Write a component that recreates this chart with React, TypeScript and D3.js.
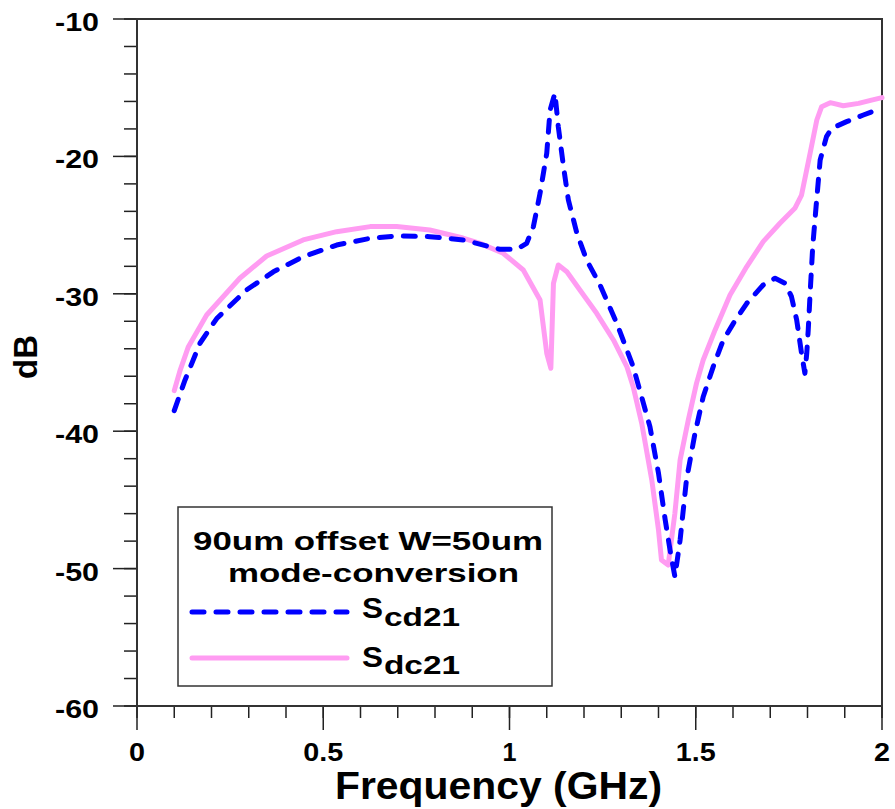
import React from "react";
import * as d3 from "d3";

// ---- data ----
const scdFreq = [0.1, 0.129, 0.169, 0.214, 0.294, 0.366, 0.446, 0.536, 0.626, 0.697, 0.786, 0.876, 0.974, 1.019, 1.046, 1.064, 1.082, 1.1, 1.109, 1.122, 1.131, 1.145, 1.158, 1.181, 1.207, 1.243, 1.288, 1.332, 1.377, 1.4, 1.418, 1.431, 1.444, 1.458, 1.475, 1.498, 1.52, 1.547, 1.574, 1.601, 1.637, 1.681, 1.713, 1.74, 1.757, 1.771, 1.784, 1.793, 1.798, 1.802, 1.808, 1.814, 1.823, 1.834, 1.851, 1.865, 1.905, 1.95, 1.99, 2.0];
const scdValues = [-38.5, -36.27, -33.6, -31.8, -29.72, -28.4, -27.3, -26.45, -25.96, -25.79, -25.84, -26.08, -26.76, -26.76, -26.33, -25.12, -22.69, -19.77, -16.62, -15.4, -17.84, -20.75, -23.17, -25.6, -27.54, -29.36, -32.15, -35.3, -39.67, -43.06, -46.46, -48.65, -50.59, -47.92, -43.55, -40.15, -37.49, -35.3, -33.36, -32.15, -30.69, -29.36, -28.87, -29.24, -30.21, -31.91, -34.33, -35.79, -34.33, -32.63, -29.48, -26.57, -23.66, -20.26, -18.56, -17.96, -17.47, -16.99, -16.57, -16.45];

const sdcFreq = [0.1, 0.116, 0.138, 0.187, 0.276, 0.348, 0.446, 0.536, 0.626, 0.697, 0.786, 0.875, 0.921, 0.983, 1.037, 1.082, 1.1, 1.111, 1.118, 1.131, 1.154, 1.189, 1.234, 1.279, 1.315, 1.332, 1.355, 1.382, 1.4, 1.408, 1.426, 1.444, 1.458, 1.48, 1.502, 1.52, 1.552, 1.592, 1.637, 1.681, 1.726, 1.766, 1.784, 1.807, 1.825, 1.838, 1.861, 1.896, 1.937, 1.972, 2.0];
const sdcValues = [-37.05, -35.55, -33.85, -31.54, -28.87, -27.25, -26.08, -25.48, -25.11, -25.11, -25.36, -25.94, -26.33, -27.05, -28.27, -30.45, -34.33, -35.42, -29.24, -27.9, -28.39, -29.72, -31.42, -33.36, -35.3, -36.76, -39.43, -43.55, -47.19, -49.37, -49.74, -45.97, -42.1, -39.19, -36.52, -34.82, -32.63, -30.09, -28.02, -26.2, -24.87, -23.78, -22.81, -19.77, -17.35, -16.38, -16.09, -16.31, -16.14, -15.9, -15.72];

const xTickLabels = ["0", "0.5", "1", "1.5", "2"];
const yTickValues = [-10, -20, -30, -40, -50, -60];
const legendTitle = ["90um offset W=50um", "mode-conversion"];
const seriesNames = [{ main: "S", sub: "cd21" }, { main: "S", sub: "dc21" }];

const W = 895, H = 809;
const L = 137, R = 882, T = 19, B = 706;
const FONT = "'Liberation Sans', Arial, sans-serif";

export default function App() {
  const x = d3.scaleLinear().domain([0, 2]).range([L, R]);
  const y = d3.scaleLinear().domain([-60, -10]).range([B, T]);
  const line = d3.line<[number, number]>().x(d => x(d[0])).y(d => y(d[1])).curve(d3.curveLinear);
  const scd = line(scdFreq.map((f, i) => [f, scdValues[i]] as [number, number])) || "";
  const sdc = line(sdcFreq.map((f, i) => [f, sdcValues[i]] as [number, number])) || "";

  const xMinor = d3.range(0, 2.0001, 0.1);
  const yMinor = d3.range(-60, -9.999, 2);
  const xLabelWidths = [16, 40, 14, 40, 16];

  return (
    <svg width={W} height={H} style={{ position: "absolute", left: 0, top: 0, background: "#fff" }} fontFamily={FONT}>
      <rect x={0} y={0} width={W} height={H} fill="#fff" />
      {/* minor / major ticks */}
      {yMinor.map((v, i) => (
        <line key={"ym" + i} x1={124} x2={L} y1={y(v)} y2={y(v)} stroke="#222" strokeWidth={1.5} />
      ))}
      {yTickValues.map((v) => (
        <line key={"yM" + v} x1={113} x2={L} y1={y(v)} y2={y(v)} stroke="#222" strokeWidth={1.5} />
      ))}
      {xMinor.map((v, i) => (
        <line key={"xm" + i} x1={x(v)} x2={x(v)} y1={B} y2={B + 12} stroke="#222" strokeWidth={1.5} />
      ))}
      {xTickLabels.map((t) => (
        <line key={"xM" + t} x1={x(+t)} x2={x(+t)} y1={B} y2={B + 24} stroke="#222" strokeWidth={1.5} />
      ))}
      {/* frame */}
      <rect x={L} y={T} width={R - L} height={B - T} fill="none" stroke="#333" strokeWidth={2} />

      {/* tick labels */}
      {yTickValues.map((v) => (
        <text key={"yl" + v} x={99} y={y(v) + 12} textAnchor="end" fontSize={26} fontWeight="bold"
          textLength={44} lengthAdjust="spacingAndGlyphs">{v}</text>
      ))}
      {xTickLabels.map((t, i) => (
        <text key={"xl" + t} x={x(+t) - xLabelWidths[i] / 2} y={761} fontSize={25} fontWeight="bold"
          textLength={xLabelWidths[i]} lengthAdjust="spacingAndGlyphs">{t}</text>
      ))}

      {/* axis titles */}
      <text x={335} y={799} fontSize={39} fontWeight="bold" textLength={327} lengthAdjust="spacingAndGlyphs">Frequency (GHz)</text>
      <text transform="translate(37,357) rotate(-90)" textAnchor="middle" fontSize={33} fontWeight="bold">dB</text>

      {/* data */}
      <path d={sdc} fill="none" stroke="#ff9cf2" strokeWidth={5} strokeLinejoin="round" strokeLinecap="round" />
      <path d={scd} fill="none" stroke="#0000ff" strokeWidth={5} strokeDasharray="12 12" strokeLinejoin="round" strokeLinecap="round" />

      {/* legend */}
      <rect x={178} y={507} width={374} height={179} fill="#fff" stroke="#333" strokeWidth={1.5} />
      <text x={193} y={550} fontSize={26} fontWeight="bold" textLength={350} lengthAdjust="spacingAndGlyphs">{legendTitle[0]}</text>
      <text x={228} y={582} fontSize={26} fontWeight="bold" textLength={291} lengthAdjust="spacingAndGlyphs">{legendTitle[1]}</text>
      <line x1={192} x2={347} y1={612} y2={612} stroke="#0000ff" strokeWidth={5} strokeDasharray="12 12" strokeLinecap="round" />
      <line x1={192} x2={347} y1={658} y2={658} stroke="#ff9cf2" strokeWidth={5} strokeLinecap="round" />
      {seriesNames.map((s, i) => (
        <g key={s.sub}>
          <text x={362} y={618 + i * 49} fontSize={29} fontWeight="bold" textLength={21} lengthAdjust="spacingAndGlyphs">{s.main}</text>
          <text x={384} y={626 + i * 48} fontSize={25} fontWeight="bold" textLength={76} lengthAdjust="spacingAndGlyphs">{s.sub}</text>
        </g>
      ))}
    </svg>
  );
}
